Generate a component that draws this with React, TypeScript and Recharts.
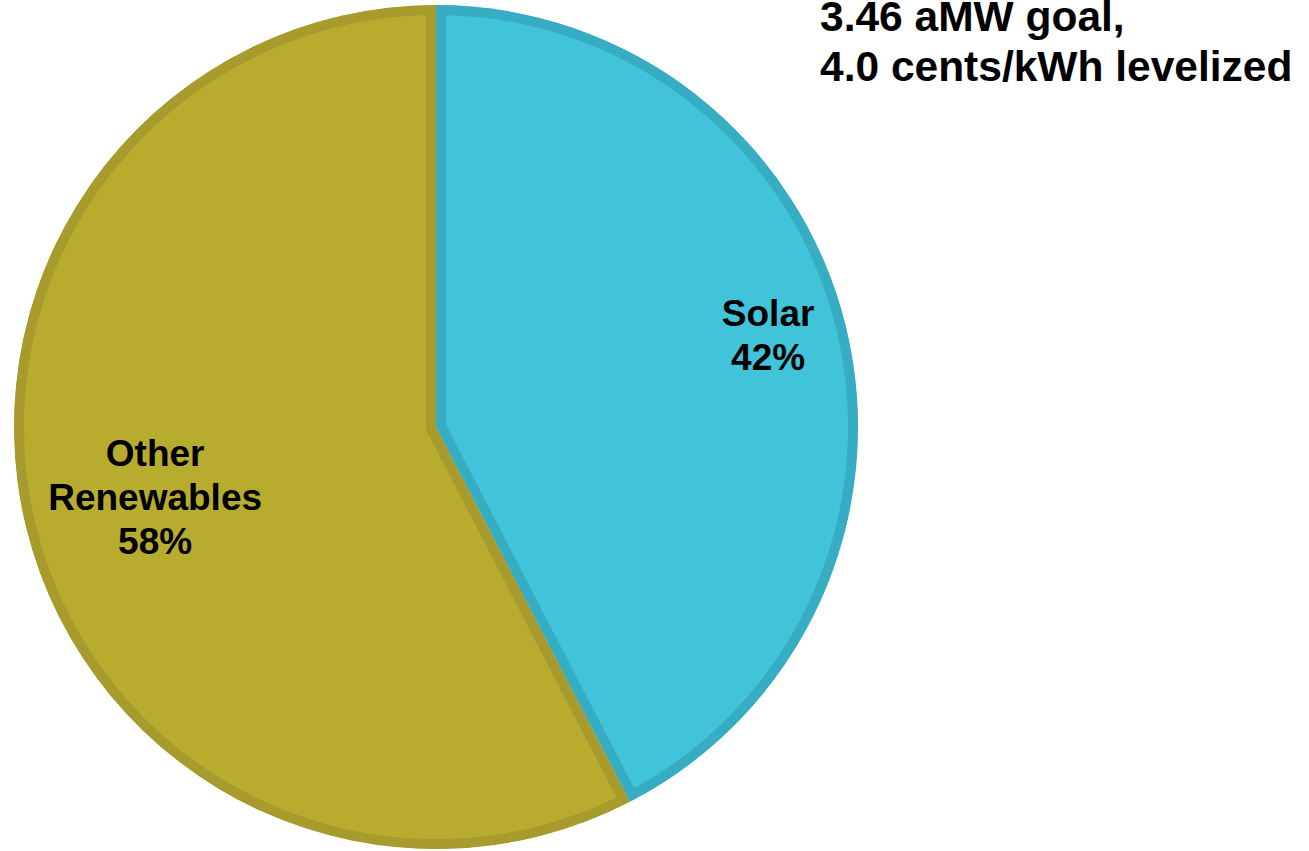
import { PieChart, Pie, Cell, Sector } from 'recharts';

const sliceNames = ['Solar', 'Other Renewables'];
const sliceValues = [42.4, 57.6];
const sliceLabels = [['Solar', '42%'], ['Other', 'Renewables', '58%']];
const titleLines = ['3.46 aMW goal,', '4.0 cents/kWh levelized'];

const fillColors = ['#41C3DA', '#B8AC2F'];
const strokeColors = ['#37ADC4', '#A69B2C'];
const labelRadius = [0.81, 0.685];
const labelShiftY = [-11, 2];

const data = sliceNames.map((name, i) => ({ name, value: sliceValues[i] }));

const RADIAN = Math.PI / 180;
const FONT = '"Liberation Sans", Arial, sans-serif';

// inner stroke: clip a double-width stroke to the sector itself
const InsetSector = (props: any) => {
  const key = String(props.name ?? props.payload?.name ?? 'x').replace(/\s+/g, '');
  const id = `clip-${key}`;
  return (
    <g>
      <defs>
        <clipPath id={id}>
          <Sector {...props} stroke="none" />
        </clipPath>
      </defs>
      <Sector {...props} strokeWidth={20} clipPath={`url(#${id})`} />
    </g>
  );
};

const renderLabel = (props: any) => {
  const { cx, cy, midAngle, outerRadius, index } = props;
  const r = outerRadius * labelRadius[index];
  const x = cx + r * Math.cos(-midAngle * RADIAN);
  const y = cy + r * Math.sin(-midAngle * RADIAN) + labelShiftY[index];
  const lines = sliceLabels[index];
  const lh = 44;
  const y0 = y - ((lines.length - 1) * lh) / 2;
  return (
    <text
      x={x}
      y={y0}
      textAnchor="middle"
      dominantBaseline="central"
      fill="#000"
      fontFamily={FONT}
      fontWeight="bold"
      fontSize={37}
    >
      {lines.map((line, i) => (
        <tspan key={line} x={x} y={y0 + i * lh} dominantBaseline="central">
          {line}
        </tspan>
      ))}
    </text>
  );
};

export default function App() {
  return (
    <div style={{ position: 'absolute', left: 0, top: 0, width: 1309, height: 851, background: '#fff', overflow: 'hidden' }}>
      <PieChart width={1309} height={851} margin={{ top: 0, right: 0, bottom: 0, left: 0 }}>
        <Pie
          data={data}
          dataKey="value"
          nameKey="name"
          cx={436}
          cy={427}
          outerRadius={422}
          startAngle={90}
          endAngle={-270}
          label={renderLabel}
          labelLine={false}
          shape={InsetSector}
          activeShape={InsetSector}
          inactiveShape={InsetSector}
          isAnimationActive={false}
        >
          {data.map((d, i) => (
            <Cell key={d.name} fill={fillColors[i]} stroke={strokeColors[i]} />
          ))}
        </Pie>
      </PieChart>
      <div
        style={{
          position: 'absolute',
          left: 820,
          top: -8,
          fontFamily: FONT,
          fontWeight: 'bold',
          fontSize: 42.5,
          lineHeight: '50px',
          color: '#000',
          whiteSpace: 'nowrap',
        }}
      >
        {titleLines.map(t => (
          <div key={t}>{t}</div>
        ))}
      </div>
    </div>
  );
}
